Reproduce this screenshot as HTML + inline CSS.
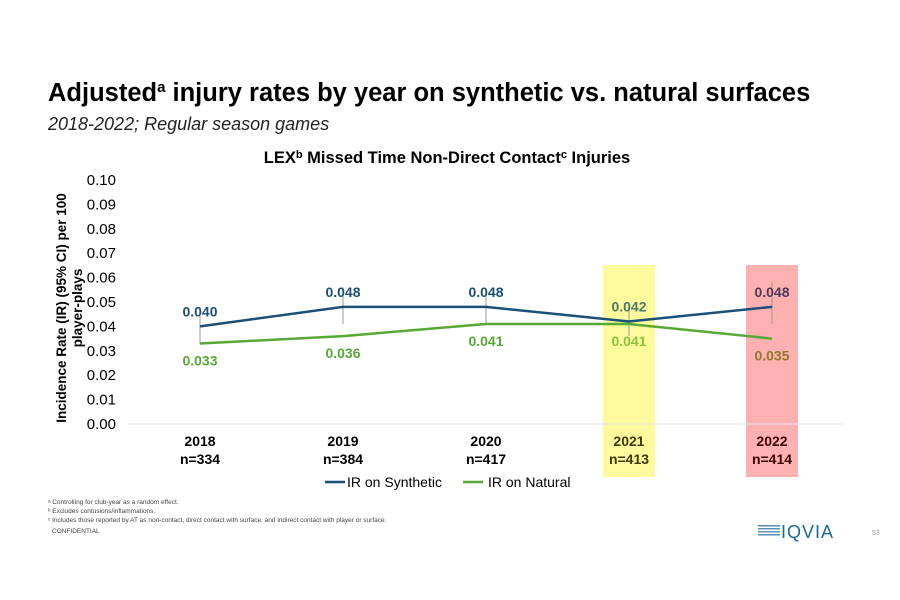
<!DOCTYPE html>
<html><head><meta charset="utf-8"><style>
body{margin:0;background:#fff;font-family:"Liberation Sans",Arial,sans-serif}
svg{display:block}
</style></head><body>
<svg width="900" height="600" viewBox="0 0 900 600">
<text x="48" y="101" font-size="25.5" font-weight="bold" fill="#000">Adjusted<tspan font-size="15" dy="-9">a</tspan><tspan dy="9"> injury rates by year on synthetic vs. natural surfaces</tspan></text>
<text x="48" y="130" font-size="18" font-style="italic" fill="#222">2018-2022; Regular season games</text>
<text x="447" y="163" font-size="16.5" font-weight="bold" text-anchor="middle" fill="#000">LEX<tspan font-size="11" dy="-5">b</tspan><tspan dy="5"> Missed Time Non-Direct Contact</tspan><tspan font-size="11" dy="-5">c</tspan><tspan dy="5"> Injuries</tspan></text>
<text transform="translate(66,308) rotate(-90)" font-size="13.5" font-weight="bold" text-anchor="middle" fill="#000"><tspan x="0" dy="0">Incidence Rate (IR) (95% CI) per 100</tspan><tspan x="0" dy="16">player-plays</tspan></text>
<g id="chart"></g>
<text x="48" y="504" font-size="6.5" fill="#444">ᵃ Controlling for club-year as a random effect.</text>
<text x="48" y="513" font-size="6.5" fill="#444">ᵇ Excludes contusions/inflammations.</text>
<text x="48" y="522" font-size="6.5" fill="#444">ᶜ Includes those reported by AT as non-contact, direct contact with surface, and indirect contact with player or surface.</text>
<text x="52" y="533" font-size="6.5" fill="#444">CONFIDENTIAL</text>
<g>
<rect x="758" y="525" width="22" height="1.5" fill="#5a8fb5"/><rect x="758" y="528" width="22" height="1.5" fill="#5a8fb5"/><rect x="758" y="531" width="22" height="1.5" fill="#5a8fb5"/><rect x="758" y="534" width="22" height="1.5" fill="#5a8fb5"/>
<text x="781" y="538" font-size="18" fill="#1b6a9a" letter-spacing="1">IQVIA</text>
</g>
<text x="872" y="535" font-size="7" fill="#999">53</text>
</svg>
<script>
const years=["2018","2019","2020","2021","2022"];
const nLabels=["n=334","n=384","n=417","n=413","n=414"];
const synthetic=[0.040,0.048,0.048,0.042,0.048];
const natural=[0.033,0.036,0.041,0.041,0.035];
const synLabels=["0.040","0.048","0.048","0.042","0.048"];
const natLabels=["0.033","0.036","0.041","0.041","0.035"];
const synLo=[0.033,0.041,0.041,0.036,0.041];
const synHi=[0.048,0.056,0.055,0.048,0.058];
const yTicks=[0,0.01,0.02,0.03,0.04,0.05,0.06,0.07,0.08,0.09,0.10];
const highlights=[{i:3,color:"#fdfa9e"},{i:4,color:"#ffb1b1"}];
const NS="http://www.w3.org/2000/svg";
const g=document.getElementById("chart");
const x=i=>200+i*143;
const y=v=>424-v*2440;
function mk(t,a,p){const e=document.createElementNS(NS,t);for(const k in a)e.setAttribute(k,a[k]);(p||g).appendChild(e);return e;}
highlights.forEach(h=>{
 const r=mk("rect",{x:x(h.i)-26,y:265,width:52,height:212,fill:h.color});
 
 
});
const base=mk("line",{x1:128,x2:845,y1:y(0),y2:y(0),stroke:"#e6e6e6","stroke-width":1});


yTicks.forEach(t=>{
 const e=mk("text",{x:116,y:y(t)+5,"font-size":15,"text-anchor":"end",fill:"#000"});
 e.textContent=t.toFixed(2);
 
 
});
years.forEach((yr,i)=>{
 const c=i===3?"#3a3a00":i===4?"#3a0000":"#000";
 const a=mk("text",{x:x(i),y:446,"font-size":14,"font-weight":"bold","text-anchor":"middle",fill:c});
 a.textContent=yr;
 
 
 const b=mk("text",{x:x(i),y:464,"font-size":14,"font-weight":"bold","text-anchor":"middle",fill:c});
 b.textContent=nLabels[i];
 
 
 const eb=mk("line",{x1:x(i),x2:x(i),y1:y(synHi[i]),y2:y(synLo[i]),stroke:"#999","stroke-width":1});
 
 
});
function series(vals,labs,color,above,name){
 const l=mk("polyline",{points:vals.map((v,i)=>x(i)+","+y(v)).join(" "),fill:"none",stroke:color,"stroke-width":2.5});
 
 
 vals.forEach((v,i)=>{
  const c=name==="synthetic"?(i===3?"#4a7a6a":i===4?"#4a3a5a":color):(i===3?"#8ac63a":i===4?"#8a7a2a":color);
  const t=mk("text",{x:x(i),y:above?y(v)-10:y(v)+22,"font-size":14,"font-weight":"bold","text-anchor":"middle",fill:c});
  t.textContent=labs[i];
  
  
 });
}
series(synthetic,synLabels,"#1a4f78",true,"synthetic");
series(natural,natLabels,"#57a834",false,"natural");
const lg1=mk("line",{x1:325,x2:345,y1:482,y2:482,stroke:"#1a4f78","stroke-width":2.5});


const lt1=mk("text",{x:347,y:487,"font-size":14,fill:"#000"});lt1.textContent="IR on Synthetic";


const lg2=mk("line",{x1:463,x2:483,y1:482,y2:482,stroke:"#57a834","stroke-width":2.5});


const lt2=mk("text",{x:488,y:487,"font-size":14,fill:"#000"});lt2.textContent="IR on Natural";


</script>
</body></html>
